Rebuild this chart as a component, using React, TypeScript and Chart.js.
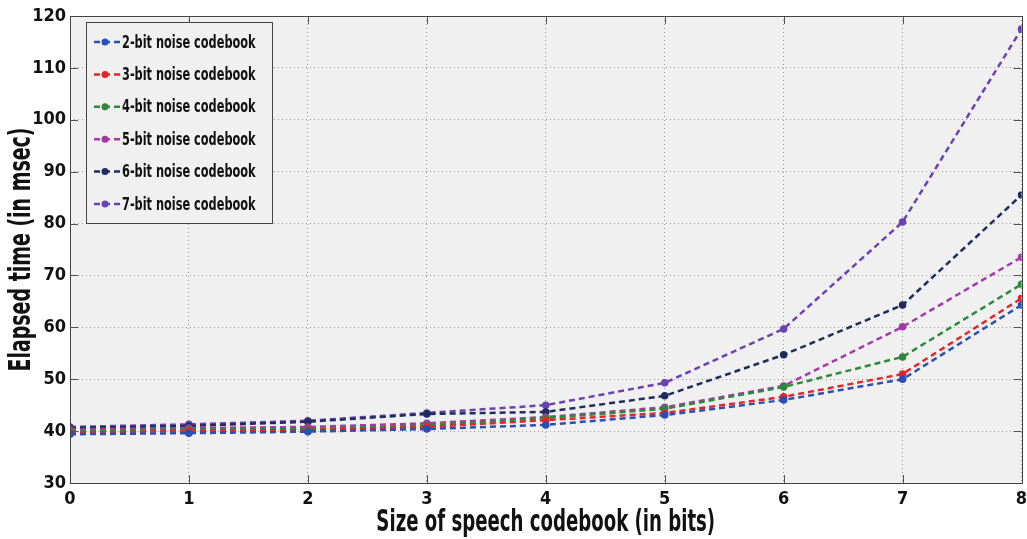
import React, { useEffect, useRef } from "react";
import { Chart, registerables } from "chart.js";

Chart.register(...registerables);

const xLabels = [0, 1, 2, 3, 4, 5, 6, 7, 8];
const seriesNames = [
  "2-bit noise codebook",
  "3-bit noise codebook",
  "4-bit noise codebook",
  "5-bit noise codebook",
  "6-bit noise codebook",
  "7-bit noise codebook",
];
const seriesColors = ["#2b50b3", "#e3262c", "#2b8a3b", "#a23aa9", "#1e2d5e", "#6b42b2"];

const bit2 = [39.4, 39.6, 39.9, 40.4, 41.2, 43.1, 46.0, 50.0, 64.3];
const bit3 = [39.7, 40.0, 40.2, 40.8, 42.1, 43.5, 46.6, 51.0, 65.6];
const bit4 = [40.0, 40.3, 40.4, 41.1, 42.5, 44.3, 48.5, 54.3, 68.3];
const bit5 = [40.3, 40.6, 40.8, 41.5, 42.7, 44.6, 48.7, 60.1, 73.5];
const bit6 = [40.6, 41.0, 41.8, 43.3, 43.7, 46.8, 54.7, 64.3, 85.5];
const bit7 = [40.8, 41.3, 42.0, 43.5, 45.0, 49.3, 59.7, 80.3, 117.5];
const allSeries = [bit2, bit3, bit4, bit5, bit6, bit7];

const yTicks = [30, 40, 50, 60, 70, 80, 90, 100, 110, 120];
const xTitle = "Size of speech codebook (in bits)";
const yTitle = "Elapsed time (in msec)";

const FONT = "'DejaVu Sans Condensed', 'DejaVu Sans', sans-serif";

function condensedText(ctx: any, text: string, x: number, y: number, size: number, sx: number, rot: number) {
  ctx.save();
  ctx.translate(x, y);
  ctx.rotate(rot);
  ctx.scale(sx, 1);
  ctx.font = "bold " + size + "px " + FONT;
  ctx.fillText(text, 0, 0);
  ctx.restore();
}

const bgPlugin = {
  id: "plotBg",
  beforeDraw(chart: any) {
    const { ctx, chartArea } = chart;
    ctx.save();
    ctx.fillStyle = "#f0f0f0";
    ctx.fillRect(chartArea.left, chartArea.top, chartArea.right - chartArea.left, chartArea.bottom - chartArea.top);
    ctx.restore();
  },
  afterDatasetsDraw(chart: any) {
    const { ctx, chartArea, scales } = chart;
    ctx.save();
    ctx.strokeStyle = "#555";
    ctx.lineWidth = 1;
    ctx.beginPath();
    const L = 8;
    xLabels.forEach((v) => {
      const x = Math.round(scales.x.getPixelForValue(v)) + 0.5;
      ctx.moveTo(x, chartArea.bottom);
      ctx.lineTo(x, chartArea.bottom - L);
      ctx.moveTo(x, chartArea.top);
      ctx.lineTo(x, chartArea.top + L);
    });
    yTicks.forEach((v) => {
      const y = Math.round(scales.y.getPixelForValue(v)) + 0.5;
      ctx.moveTo(chartArea.left, y);
      ctx.lineTo(chartArea.left + L, y);
      ctx.moveTo(chartArea.right, y);
      ctx.lineTo(chartArea.right - L, y);
    });
    ctx.stroke();
    ctx.strokeStyle = "#444";
    ctx.strokeRect(
      Math.round(chartArea.left) + 0.5,
      Math.round(chartArea.top) + 0.5,
      Math.round(chartArea.right - chartArea.left),
      Math.round(chartArea.bottom - chartArea.top)
    );
    ctx.restore();
  },
  afterDraw(chart: any) {
    const { ctx, chartArea } = chart;
    const bx = chartArea.left + 16;
    const by = chartArea.top + 6;
    const bw = 186;
    const bh = 201;
    ctx.save();
    ctx.fillStyle = "#f0f0f0";
    ctx.fillRect(bx, by, bw, bh);
    ctx.strokeStyle = "#444";
    ctx.lineWidth = 1;
    ctx.strokeRect(bx + 0.5, by + 0.5, bw, bh);
    ctx.textBaseline = "middle";
    ctx.textAlign = "left";
    seriesNames.forEach((name, i) => {
      const y = by + 20 + i * 32.4;
      const c = seriesColors[i];
      ctx.strokeStyle = c;
      ctx.lineWidth = 2.5;
      ctx.setLineDash([6, 4]);
      ctx.beginPath();
      ctx.moveTo(bx + 8, y);
      ctx.lineTo(bx + 34, y);
      ctx.stroke();
      ctx.setLineDash([]);
      ctx.fillStyle = c;
      ctx.beginPath();
      ctx.arc(bx + 19, y, 3.5, 0, Math.PI * 2);
      ctx.fill();
      ctx.fillStyle = "#111";
      condensedText(ctx, name, bx + 36, y + 1, 18, 0.7, 0);
    });
    ctx.fillStyle = "#111";
    ctx.textAlign = "center";
    ctx.textBaseline = "middle";
    const cx = (chartArea.left + chartArea.right) / 2;
    const cy = (chartArea.top + chartArea.bottom) / 2;
    condensedText(ctx, xTitle, cx, 523, 31, 0.65, 0);
    condensedText(ctx, yTitle, 22, cy, 31, 0.68, -Math.PI / 2);
    ctx.restore();
  },
};

export default function App() {
  const ref = useRef<HTMLCanvasElement>(null);
  useEffect(() => {
    document.body.style.margin = "0";
    const chart = new Chart(ref.current as HTMLCanvasElement, {
      type: "line",
      data: {
        labels: xLabels,
        datasets: allSeries.map((d, i) => ({
          label: seriesNames[i],
          data: d.map((v, j) => ({ x: xLabels[j], y: v })),
          borderColor: seriesColors[i],
          backgroundColor: seriesColors[i],
          borderWidth: 2.5,
          borderDash: [6, 4],
          pointRadius: 3,
          pointStyle: "circle",
          pointBorderWidth: 1.5,
          tension: 0,
        })),
      },
      options: {
        responsive: false,
        animation: false,
        layout: { padding: { top: 16, right: 5, left: 0, bottom: 0 } },
        plugins: {
          legend: { display: false },
          tooltip: { enabled: false },
        },
        scales: {
          x: {
            type: "linear",
            min: 0,
            max: 8,
            afterFit: (s: any) => { s.height = 56; s.paddingLeft = 0; s.paddingRight = 0; },
            afterBuildTicks: (s: any) => { s.ticks = xLabels.map((v) => ({ value: v })); },
            grid: { color: "#9a9a9a", lineWidth: 1, drawTicks: false },
            border: { display: false, dash: [1, 3] },
            ticks: {
              color: "#111",
              padding: 6,
              font: { family: FONT, size: 18, weight: "bold" },
              maxRotation: 0,
            },
            title: { display: false, text: xTitle },
          },
          y: {
            min: 30,
            max: 120,
            afterFit: (s: any) => { s.width = 70; s.paddingTop = 0; s.paddingBottom = 0; },
            afterBuildTicks: (s: any) => { s.ticks = yTicks.map((v) => ({ value: v })); },
            grid: { color: "#9a9a9a", lineWidth: 1, drawTicks: false },
            border: { display: false, dash: [1, 3] },
            ticks: {
              color: "#111",
              padding: 4,
              font: { family: FONT, size: 18, weight: "bold" },
            },
            title: { display: false, text: yTitle },
          },
        },
      } as any,
      plugins: [bgPlugin],
    });
    return () => chart.destroy();
  }, []);
  return (
    <div style={{ position: "relative", width: 1027, height: 539, background: "#fff" }}>
      <canvas ref={ref} width={1027} height={539} />
    </div>
  );
}
